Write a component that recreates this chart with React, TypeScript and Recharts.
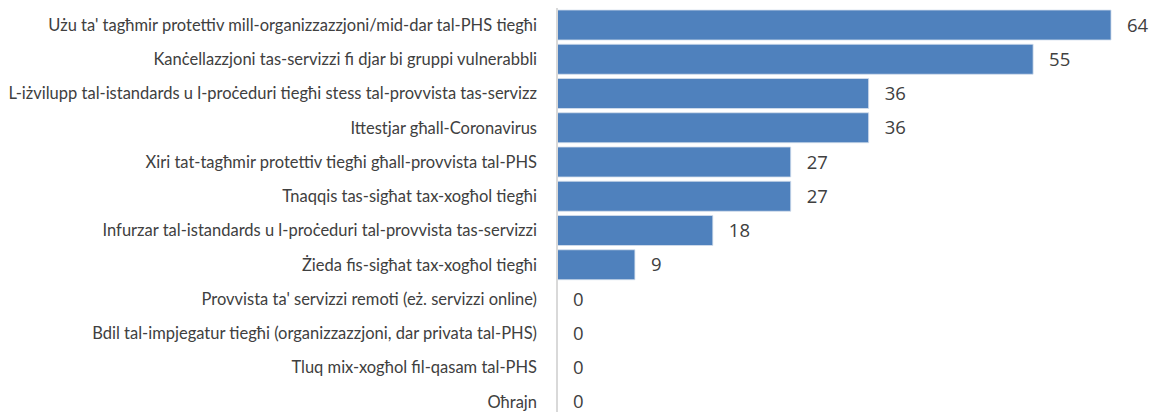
import React from 'react';
import { BarChart, Bar, XAxis, YAxis, LabelList, Rectangle } from 'recharts';

const categories = [
  "Użu ta' tagħmir protettiv mill-organizzazzjoni/mid-dar tal-PHS tiegħi",
  'Kanċellazzjoni tas-servizzi fi djar bi gruppi vulnerabbli',
  'L-iżvilupp tal-istandards u l-proċeduri tiegħi stess tal-provvista tas-servizz',
  'Ittestjar għall-Coronavirus',
  'Xiri tat-tagħmir protettiv tiegħi għall-provvista tal-PHS',
  'Tnaqqis tas-sigħat tax-xogħol tiegħi',
  'Infurzar tal-istandards u l-proċeduri tal-provvista tas-servizzi',
  'Żieda fis-sigħat tax-xogħol tiegħi',
  "Provvista ta' servizzi remoti (eż. servizzi online)",
  'Bdil tal-impjegatur tiegħi (organizzazzjoni, dar privata tal-PHS)',
  'Tluq mix-xogħol fil-qasam tal-PHS',
  'Oħrajn',
];

const values = [64, 55, 36, 36, 27, 27, 18, 9, 0, 0, 0, 0];

const data = categories.map((name, i) => ({ name, value: values[i] }));

const tickFont = 'Lato, "Open Sans", sans-serif';

// skip drawing zero-length bars but keep them so their labels show
const BarShape = (props: any) => {
  if (!props.value || props.width < 1) return null;
  return <Rectangle {...props} />;
};

const ValueLabel = (props: any) => {
  const { x, y, width, height, value } = props;
  return (
    <text
      x={Number(x) + Number(width) + 16}
      y={Number(y) + Number(height) / 2 - 1}
      dominantBaseline="central"
      fontSize={18.5}
      fill="#404040"
      fontFamily='"Open Sans", sans-serif'
    >
      {value}
    </text>
  );
};

export default function App() {
  return (
    <div style={{ position: 'absolute', left: 0, top: 0, background: '#fff' }}>
      <BarChart
        width={1157}
        height={419}
        data={data}
        layout="vertical"
        margin={{ top: 8, right: 20, left: 0, bottom: 0 }}
        barCategoryGap={2}
      >
        <XAxis type="number" domain={[0, 67]} hide />
        <YAxis
          type="category"
          dataKey="name"
          width={557}
          axisLine={{ stroke: '#d9d9d9', strokeWidth: 2 }}
          tickLine={false}
          tickSize={0}
          tickMargin={20}
          interval={0}
          tick={{ fontSize: 16.5, fill: '#404040', fontFamily: tickFont }}
        />
        <Bar
          dataKey="value"
          fill="#4f81bd"
          stroke="#d6e0ee"
          strokeWidth={0.8}
          minPointSize={0.01}
          shape={BarShape}
          isAnimationActive={false}
        >
          <LabelList dataKey="value" content={ValueLabel} />
        </Bar>
      </BarChart>
    </div>
  );
}
